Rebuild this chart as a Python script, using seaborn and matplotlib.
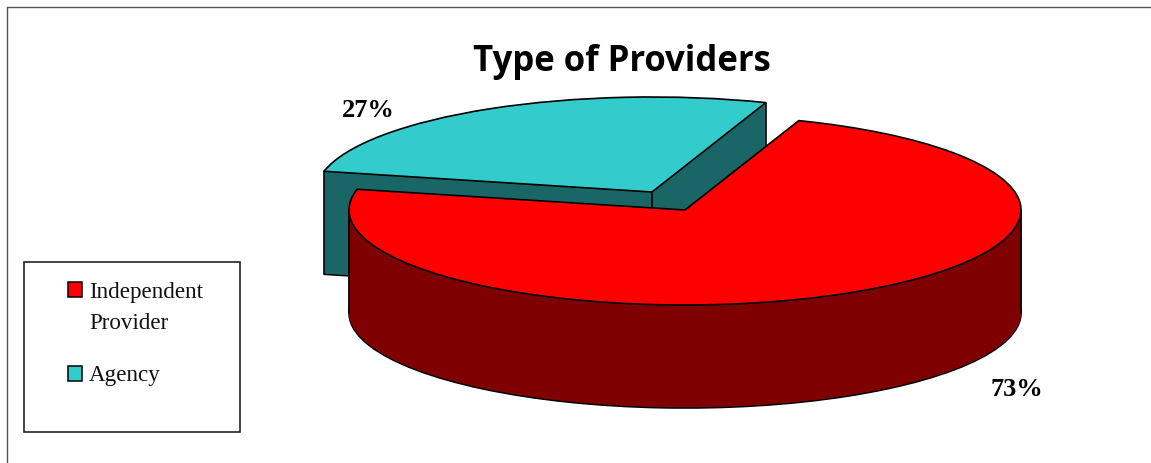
import matplotlib
matplotlib.use("Agg")
import matplotlib.pyplot as plt
from matplotlib.patches import Rectangle
import numpy as np
import seaborn as sns

# values
labels = ["Independent\nProvider", "Agency"]
shares = [73, 27]
colors = ["#FF0000", "#33CCCC"]
dark_colors = ["#7F0000", "#1A6666"]

W, H = 1151, 463
RX, RY = 336, 95      # ellipse radii in pixels
DEPTH = 103           # height of the cylinder
START = 70.2          # where the red slice starts, clockwise from here
EDGE = 1.2

sns.set_theme(style="white")

fig = plt.figure(figsize=(W / 100, H / 100), dpi=100)
ax = fig.add_axes([0, 0, 1, 1])


def to_center(px, py):
    # pixel position -> axis units, pie radius is 1 unit
    return px / RX, (H - py) / RY


def draw_slice(idx, px, py, color, edge=None, lw=0):
    wedges, _ = ax.pie(shares, startangle=START, counterclock=False, radius=1,
                       center=to_center(px, py), colors=[color] * 2,
                       wedgeprops=dict(edgecolor=edge if edge else color, linewidth=lw))
    wedges[1 - idx].remove()
    return wedges[idx]


def draw_body(idx, px, py):
    # bottom outline first, then fill the height with stacked copies
    draw_slice(idx, px, py + DEPTH, dark_colors[idx], "black", EDGE)
    for d in np.arange(DEPTH - 1, 0, -1):
        draw_slice(idx, px, py + d, dark_colors[idx], dark_colors[idx], 0.3)
    draw_slice(idx, px, py, colors[idx], "black", EDGE)


# slice edge angles, needed for the vertical wall lines
end_angle = START - 360 * shares[0] / sum(shares)

# agency sits behind, moved up and left
ax_x, ax_y = 652, 192
draw_body(1, ax_x, ax_y)
for ang in [START, end_angle]:
    x = ax_x + RX * np.cos(np.radians(ang))
    y = ax_y - RY * np.sin(np.radians(ang))
    ax.plot([x / RX] * 2, [(H - y) / RY, (H - y - DEPTH) / RY], color="black", lw=EDGE, zorder=2)
ax.plot([ax_x / RX] * 2, [(H - ax_y) / RY, (H - ax_y - DEPTH) / RY], color="black", lw=EDGE, zorder=2)

# independent provider in front, needs to cover the walls above
red_x, red_y = 685, 210
n_before = len(ax.patches)
draw_body(0, red_x, red_y)
for p in ax.patches[n_before:]:
    p.set_zorder(3)
for x in [red_x - RX, red_x + RX]:
    ax.plot([x / RX] * 2, [(H - red_y) / RY, (H - red_y - DEPTH) / RY], color="black", lw=EDGE, zorder=3)

ax.set_aspect("auto")
ax.set_xlim(0, W / RX)
ax.set_ylim(0, H / RY)
ax.set_axis_off()


def place(px, py):
    return px / W, 1 - py / H


serif = "Liberation Serif"

# chart border, only left and top show
fig.add_artist(plt.Line2D([6.5 / W, 6.5 / W], [0, 1 - 6.5 / H], color="#555555", lw=1))
fig.add_artist(plt.Line2D([6.5 / W, 1], [1 - 6.5 / H, 1 - 6.5 / H], color="#555555", lw=1))

fig.text(*place(621.5, 62), "Type of Providers", family="Open Sans", fontweight="bold",
         fontsize=25, ha="center", va="center", color="black")

pct_pos = [(1017, 389), (368, 110)]
for pct, (px, py) in zip(shares, pct_pos):
    fig.text(*place(px, py), f"{pct}%", family=serif, fontweight="bold", fontsize=19,
             ha="center", va="center", color="black")

# legend box
fig.add_artist(Rectangle((23.5 / W, 1 - 431.5 / H), 216 / W, 170 / H, transform=fig.transFigure,
                         facecolor="white", edgecolor="#222222", lw=1.2))
sq_rows = [289, 373]
text_rows = [308, 376]
for i in range(len(labels)):
    fig.add_artist(Rectangle((67.5 / W, 1 - (sq_rows[i] + 7.5) / H), 14 / W, 15 / H, transform=fig.transFigure,
                             facecolor=colors[i], edgecolor="black", lw=1.1))
    fig.text(*place(89, text_rows[i]), labels[i], family=serif, fontsize=16.6,
             ha="left", va="center", color="#111111", linespacing=1.6)

fig.savefig("out.png", dpi=100)
